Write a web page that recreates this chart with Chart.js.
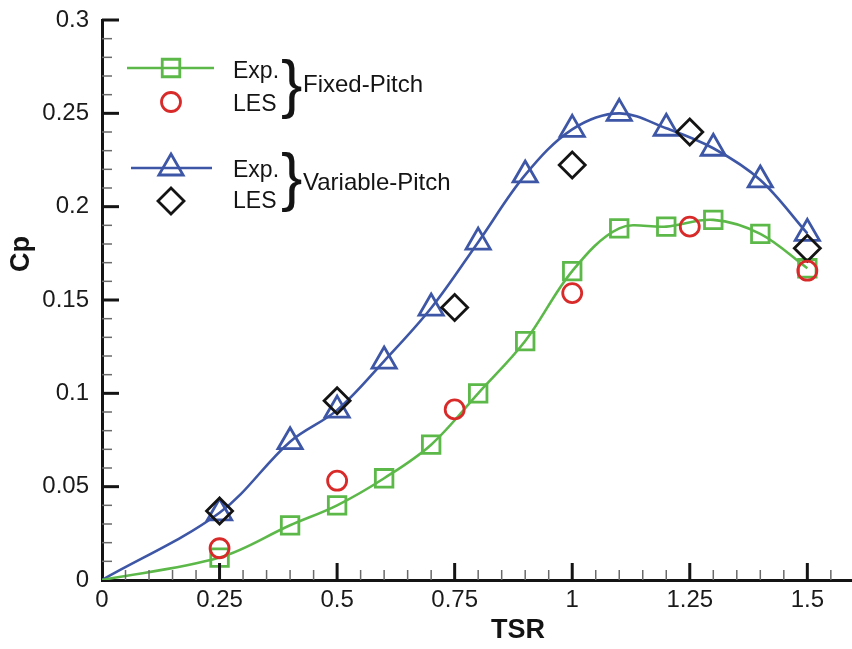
<!DOCTYPE html>
<html>
<head>
<meta charset="utf-8">
<script src="https://cdn.jsdelivr.net/npm/chart.js@4.4.1/dist/chart.umd.min.js"></script>
<style>
  html, body { margin: 0; padding: 0; background: #fff; }
  #wrap { width: 852px; height: 649px; }
</style>
</head>
<body>
<div id="wrap"><canvas id="cpChart"></canvas></div>
<script>
// experimental stations (TSR) and power coefficients
const tsrExp = [0, 0.25, 0.4, 0.5, 0.6, 0.7, 0.8, 0.9, 1.0, 1.1, 1.2, 1.3, 1.4, 1.5];
const cpFixedExp = [0, 0.012, 0.0293, 0.040, 0.0545, 0.0725, 0.100, 0.128, 0.1655, 0.1884, 0.1893, 0.1929, 0.1854, 0.167];
const cpVariableExp = [0, 0.036, 0.0741, 0.091, 0.1173, 0.1457, 0.181, 0.217, 0.2414, 0.250, 0.242, 0.2313, 0.2143, 0.1857];

// LES runs
const tsrLes = [0.25, 0.5, 0.75, 1.0, 1.25, 1.5];
const cpFixedLes = [0.017, 0.0532, 0.0914, 0.1537, 0.1893, 0.1657];
const cpVariableLes = [0.037, 0.096, 0.146, 0.2223, 0.240, 0.1777];

const xTickValues = [0, 0.25, 0.5, 0.75, 1, 1.25, 1.5];
const xTickLabels = ['0', '0.25', '0.5', '0.75', '1', '1.25', '1.5'];
const yTickValues = [0, 0.05, 0.1, 0.15, 0.2, 0.25, 0.3];
const yTickLabels = ['0', '0.05', '0.1', '0.15', '0.2', '0.25', '0.3'];

const FONT = '"Liberation Sans", Arial, Helvetica, sans-serif';
const GREEN = '#5cb949';
const RED = '#d92a2a';
const BLUE = '#3d56a6';
const BLACK = '#141414';

function pairs(xs, ys) {
  return xs.map((x, i) => ({ x: x, y: ys[i] }));
}

function labelFor(values, labels) {
  return function (v) {
    const i = values.findIndex(t => Math.abs(t - v) < 1e-9);
    return i < 0 ? '' : labels[i];
  };
}

function onStep(v, step) {
  const q = v / step;
  return Math.abs(q - Math.round(q)) < 1e-6;
}

// ticks pointing into the plot, axis titles and the grouped key
const decor = {
  id: 'decor',
  afterDraw(chart) {
    const { ctx, chartArea: area, scales: { x, y } } = chart;
    ctx.save();

    for (let k = 1; k * 0.05 <= x.max + 1e-9; k++) {
      const v = k * 0.05;
      const major = onStep(v, 0.25);
      const px = x.getPixelForValue(v);
      ctx.beginPath();
      ctx.strokeStyle = major ? BLACK : '#6a6a6a';
      ctx.lineWidth = major ? 3 : 1.5;
      ctx.moveTo(px, area.bottom);
      ctx.lineTo(px, area.bottom - (major ? 17 : 10));
      ctx.stroke();
    }
    for (let k = 1; k * 0.01 <= y.max + 1e-9; k++) {
      const v = k * 0.01;
      const major = onStep(v, 0.05);
      const py = y.getPixelForValue(v);
      ctx.beginPath();
      ctx.strokeStyle = major ? BLACK : '#6a6a6a';
      ctx.lineWidth = major ? 3 : 1.5;
      ctx.moveTo(area.left, py);
      ctx.lineTo(area.left + (major ? 17 : 10), py);
      ctx.stroke();
    }

    ctx.fillStyle = BLACK;
    ctx.font = 'bold 27px ' + FONT;
    ctx.textAlign = 'center';
    ctx.textBaseline = 'middle';
    ctx.fillText('TSR', 518, 631);
    ctx.save();
    ctx.translate(22, 254);
    ctx.rotate(-Math.PI / 2);
    ctx.fillText('Cp', 0, 0);
    ctx.restore();

    // key: one row per dataset, braces join each Exp./LES pair
    const rows = [
      { ds: 2, y: 68, line: [127, 214], text: 'Exp.', base: 78 },
      { ds: 0, y: 102, text: 'LES', base: 111 },
      { ds: 3, y: 168, line: [131, 212], text: 'Exp.', base: 177 },
      { ds: 1, y: 201, text: 'LES', base: 208 }
    ];
    rows.forEach(r => {
      const d = chart.data.datasets[r.ds];
      if (r.line) {
        ctx.beginPath();
        ctx.strokeStyle = d.borderColor;
        ctx.lineWidth = d.borderWidth;
        ctx.moveTo(r.line[0], r.y);
        ctx.lineTo(r.line[1], r.y);
        ctx.stroke();
      }
      ctx.strokeStyle = d.pointBorderColor;
      ctx.fillStyle = 'rgba(0,0,0,0)';
      ctx.lineWidth = d.pointBorderWidth;
      Chart.helpers.drawPoint(ctx, {
        pointStyle: d.pointStyle,
        radius: Array.isArray(d.pointRadius) ? d.pointRadius[1] : d.pointRadius,
        rotation: 0,
        borderWidth: d.pointBorderWidth
      }, 171, r.y);
      ctx.fillStyle = BLACK;
      ctx.font = '23px ' + FONT;
      ctx.textAlign = 'left';
      ctx.textBaseline = 'alphabetic';
      ctx.fillText(r.text, 233, r.base);
    });

    const groups = [
      { name: 'Fixed-Pitch', brace: 106, base: 92 },
      { name: 'Variable-Pitch', brace: 199, base: 190 }
    ];
    groups.forEach(g => {
      ctx.font = '64px ' + FONT;
      ctx.fillText('}', 281, g.brace);
      ctx.font = '24px ' + FONT;
      ctx.fillText(g.name, 303, g.base);
    });

    ctx.restore();
  }
};

new Chart(document.getElementById('cpChart'), {
  type: 'scatter',
  data: {
    datasets: [
      {
        label: 'LES Fixed-Pitch',
        data: pairs(tsrLes, cpFixedLes),
        showLine: false,
        pointStyle: 'circle',
        pointRadius: 9.5,
        pointBorderColor: RED,
        pointBackgroundColor: 'rgba(0,0,0,0)',
        pointBorderWidth: 2.8,
        order: 0
      },
      {
        label: 'LES Variable-Pitch',
        data: pairs(tsrLes, cpVariableLes),
        showLine: false,
        pointStyle: 'rectRot',
        pointRadius: 13,
        pointBorderColor: BLACK,
        pointBackgroundColor: 'rgba(0,0,0,0)',
        pointBorderWidth: 2.8,
        order: 1
      },
      {
        label: 'Exp. Fixed-Pitch',
        data: pairs(tsrExp, cpFixedExp),
        showLine: true,
        tension: 0.35,
        borderColor: GREEN,
        borderWidth: 2.6,
        pointStyle: 'rect',
        pointRadius: tsrExp.map(t => (t === 0 ? 0 : 12.4)),
        pointBorderColor: GREEN,
        pointBackgroundColor: 'rgba(0,0,0,0)',
        pointBorderWidth: 2.8,
        order: 2
      },
      {
        label: 'Exp. Variable-Pitch',
        data: pairs(tsrExp, cpVariableExp),
        showLine: true,
        tension: 0.35,
        borderColor: BLUE,
        borderWidth: 2.6,
        pointStyle: 'triangle',
        pointRadius: tsrExp.map(t => (t === 0 ? 0 : 14)),
        pointBorderColor: BLUE,
        pointBackgroundColor: 'rgba(0,0,0,0)',
        pointBorderWidth: 2.8,
        order: 3
      }
    ]
  },
  options: {
    responsive: true,
    maintainAspectRatio: false,
    animation: false,
    layout: { autoPadding: false, padding: { top: 20, left: 0, right: 0, bottom: 0 } },
    plugins: { legend: { display: false }, tooltip: { enabled: false } },
    scales: {
      x: {
        type: 'linear',
        min: 0,
        max: 1.595,
        grid: { display: false },
        border: { color: BLACK, width: 3 },
        ticks: {
          stepSize: 0.05,
          autoSkip: false,
          maxRotation: 0,
          padding: -2,
          color: '#1a1a1a',
          font: { family: FONT, size: 24 },
          callback: labelFor(xTickValues, xTickLabels)
        },
        afterFit(s) {
          s.height = 69;
          s.paddingRight = 0;
        }
      },
      y: {
        min: 0,
        max: 0.3,
        grid: { display: false },
        border: { color: BLACK, width: 3 },
        ticks: {
          stepSize: 0.01,
          autoSkip: false,
          padding: 5,
          color: '#1a1a1a',
          font: { family: FONT, size: 24 },
          callback: labelFor(yTickValues, yTickLabels)
        },
        afterFit(s) {
          s.width = 102;
          s.paddingTop = 0;
        }
      }
    }
  },
  plugins: [decor]
});
</script>
</body>
</html>
